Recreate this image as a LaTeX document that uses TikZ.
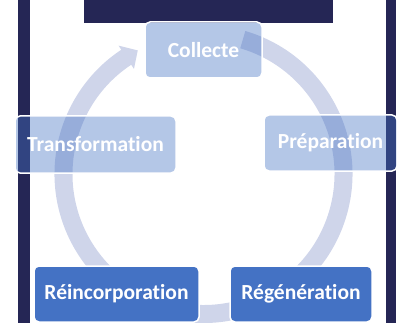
\documentclass[tikz,border=0pt]{standalone}
\usepackage{fontspec}
\setmainfont[Ligatures=NoCommon]{Carlito}
\definecolor{navy}{RGB}{37,38,85}
\definecolor{accent}{HTML}{4472C4}
\definecolor{ringc}{HTML}{CFD5EA}
\begin{document}
\begin{tikzpicture}[x=1pt,y=-1pt,
  stage/.style={rectangle, rounded corners=5pt, draw=white, line width=1.5pt,
    text=white, font=\fontsize{21.5}{24}\selectfont\bfseries, inner sep=0pt, align=center},
  soft/.style={stage, fill=accent, fill opacity=0.4, text opacity=1},
  solid/.style={stage, fill=accent}]
\useasboundingbox (0,0) rectangle (398,323);
% frame
\fill[navy] (18,0) rectangle (30,323);
\fill[navy] (386,0) rectangle (396,323);
\fill[navy] (84,0) rectangle (333,23);
% cycle arrow
\coordinate (c) at (203.5,174);
\begin{scope}[shift={(c)}, y=1pt]
\fill[ringc] (73.7:149) arc[start angle=73.7, end angle=-236.5, radius=149]
  -- (-236.5:154) -- (-242:140) -- (-236.5:126) -- (-236.5:131)
  arc[start angle=-236.5, end angle=73.7, radius=131] -- cycle;
\end{scope}
% stages
\node[soft, minimum width=117, minimum height=56] (col) at (203.5,50) {Collecte};
\node[soft, minimum width=133, minimum height=56] (pre) at (330.5,143) {Préparation};
\node[solid, minimum width=142, minimum height=56] (reg) at (301,294) {Régénération};
\node[solid, minimum width=165, minimum height=56] (rei) at (116.5,294) {Réincorporation};
\node[soft, minimum width=161, minimum height=57] (tra) at (95.5,144.5) {Transformation};
\end{tikzpicture}
\end{document}
